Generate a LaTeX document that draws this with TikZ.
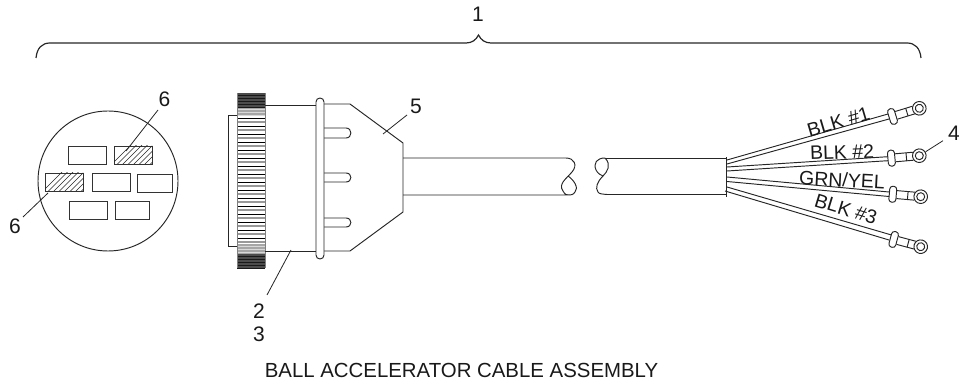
\documentclass[tikz,border=0pt]{standalone}
\usepackage{fontspec}
\setmainfont{Liberation Sans}
\newcommand{\lugshape}[3]{%
  \begin{scope}[shift={(#1,#2)},rotate=#3]
    \draw[ln] (-6,-4) -- (-24,-4) (-24,4) -- (-6,4);
    \draw[ln] (-13,-4) -- (-13,4);
    \draw[ln,fill=white,rounded corners=3pt] (-31.5,-8) rectangle (-24.5,8);
    \draw[ln,fill=white] (0,0) circle (6.8);
    \draw[ln] (0,0) circle (4);
  \end{scope}}
\tikzset{
  ln/.style={line width=0.95pt,draw=black!85},
  thin ln/.style={line width=0.8pt,draw=black!85},
  lab/.style={font=\fontsize{21}{23}\selectfont,inner sep=0pt,text=black!90},
  wirelab/.style={font=\fontsize{19.5}{22}\selectfont,inner sep=0pt,text=black!90},
  pinbox/.style={draw=black!80,line width=0.85pt,minimum height=18pt,inner sep=0pt},
}
\begin{document}
\begin{tikzpicture}[x=1pt,y=-1pt]
\useasboundingbox (0,0) rectangle (959,387);
% brace
\draw[line width=1.2pt,draw=black!85] (36,58) .. controls (37,48) and (42,43) .. (50,43) -- (466,43) .. controls (472,43) and (476,40) .. (478.5,35)
  .. controls (481,40) and (485,43) .. (491,43) -- (907,43) .. controls (915,43) and (920,48) .. (921,58);
\node[lab] (n1) at (478,14.5) {1};
% connector face
\draw[ln] (108,181) circle (70);
\node[pinbox,minimum width=38pt] (p1) at (87,155) {};
\node[pinbox,minimum width=38pt] (p2) at (133,155) {};
\node[pinbox,minimum width=38pt] (p3) at (64,182) {};
\node[pinbox,minimum width=38pt] (p4) at (111,182) {};
\node[pinbox,minimum width=35pt] (p5) at (154.5,183) {};
\node[pinbox,minimum width=38pt] (p6) at (88.5,210) {};
\node[pinbox,minimum width=34pt] (p7) at (132,210) {};
\begin{scope}
  \clip (114,146) rectangle (152,164);
  \foreach \i in {0,...,12} \draw[line width=0.55pt,black!85] (108+\i*5.5,168) -- ++(26,-26);
\end{scope}
\begin{scope}
  \clip (45,173) rectangle (83,191);
  \foreach \i in {0,...,12} \draw[line width=0.55pt,black!85] (39+\i*5.5,195) -- ++(26,-26);
\end{scope}
\node[lab] (n6a) at (164.5,99) {6};
\node[lab] (n6b) at (15,226) {6};
\coordinate (t6a) at (126,151);
\coordinate (t6b) at (48,193);
\draw[thin ln] (158,110) -- (t6a);
\draw[thin ln] (23,217) -- (t6b);
% plug: rear ring and knurl
\draw[ln] (237,115) -- (228,115) -- (228,246) -- (237,246);
\fill[black!70] (237,93) rectangle (265,107);
\fill[black!70] (237,254) rectangle (265,268);
\fill[black!35] (237,107) rectangle (265,116);
\fill[black!35] (237,244) rectangle (265,254);
\foreach \y in {95,98,...,107,256,259,...,268}
  \draw[line width=0.9pt,black!90] (237,\y) -- (265,\y);
\foreach \y in {109,112,115,246,249,252}
  \draw[line width=0.7pt,black!15] (237,\y) -- (265,\y);
\foreach \y [count=\c] in {118,122,...,242} {
  \ifodd\c
    \draw[line width=0.8pt,black] (237,\y) -- (265,\y);
  \else
    \draw[line width=1.2pt,black!40] (237,\y) -- (265,\y);
  \fi
}
\draw[line width=0.8pt,black!50] (237,93) -- (237,268) (265,93) -- (265,268);
% body
\draw[ln] (265,105) -- (316,105);
\draw[ln] (265,251) -- (316,251);
\draw[ln] (324,104) -- (350,104) -- (403,143) -- (403,212) -- (350,251) -- (324,251);
% ribs
\foreach \ya/\yb in {128/138,173/182,218/227}
  \draw[ln] (324,\ya) -- (346,\ya) .. controls (352.5,\ya) and (352.5,\yb) .. (346,\yb) -- (324,\yb);
\draw[ln,fill=white,rounded corners=3.9pt] (316,98) rectangle (324,259);
% cable
\draw[ln] (403,158) -- (566,158) .. controls (574,158) and (578,165) .. (572,172) .. controls (566,179) and (558,184) .. (563,191) .. controls (565,195) and (567,195) .. (569,195) -- (403,195);
\draw[ln] (568,176) .. controls (574,180) and (579,188) .. (575,192) .. controls (573,195) and (571,195) .. (569,195);
\draw[ln] (605,158) .. controls (597,158) and (593,163) .. (596,170) .. controls (598,174) and (601,175) .. (603,176) .. controls (607,172) and (612,165) .. (605,158);
\draw[ln] (603,176) .. controls (597,182) and (595,188) .. (598,192) .. controls (599,194) and (602,194) .. (607,194.5) -- (726,194.5);
\draw[ln] (605,158) -- (726,158);
\draw[ln] (726,157.5) -- (726,197);
% lugs
\lugshape{919.3}{108.3}{17}
\lugshape{919.3}{155.7}{5}
\lugshape{920.7}{196.7}{-5}
\lugshape{920.7}{246.7}{-15}
% wires
\coordinate (w1a) at (727,160); \coordinate (w1b) at (727,164);
\coordinate (w2a) at (727,167); \coordinate (w2b) at (727,171);
\coordinate (w3a) at (727,177); \coordinate (w3b) at (727,181.5);
\coordinate (w4a) at (727,187); \coordinate (w4b) at (725,191);
\draw[ln] (w1a) -- (888,114) (w1b) -- (889,119);
\draw[ln] (w2a) -- (888,156.7) (w2b) -- (888,160.7);
\draw[ln] (w3a) -- (889,192) (w3b) -- (889,196.5);
\draw[ln] (w4a) -- (891.5,235) (w4b) -- (889,240);
% wire labels
\node[wirelab,rotate=16.5] (b1) at (838.5,122) {BLK \#1};
\node[wirelab,rotate=2] (b2) at (842,152) {BLK \#2};
\node[wirelab,rotate=-3] (b3) at (842,180) {GRN/YEL};
\node[wirelab,rotate=-17] (b4) at (846,209) {BLK \#3};
% callouts
\node[lab] (n5) at (416,106) {5};
\coordinate (t5) at (383,134);
\draw[thin ln] (407,115) -- (t5);
\node[lab] (n2) at (259,311) {2};
\node[lab] (n3) at (259,334) {3};
\coordinate (t2) at (291,250);
\draw[thin ln] (t2) -- (267,295);
\node[lab] (n4) at (954,133) {4};
\coordinate (t4) at (925.7,151.7);
\draw[thin ln] (943,140.7) -- (t4);
\node[font=\fontsize{20.4}{22}\selectfont,inner sep=0pt,text=black!90] (title) at (461.5,370.5) {BALL ACCELERATOR CABLE ASSEMBLY};
\end{tikzpicture}
\end{document}
